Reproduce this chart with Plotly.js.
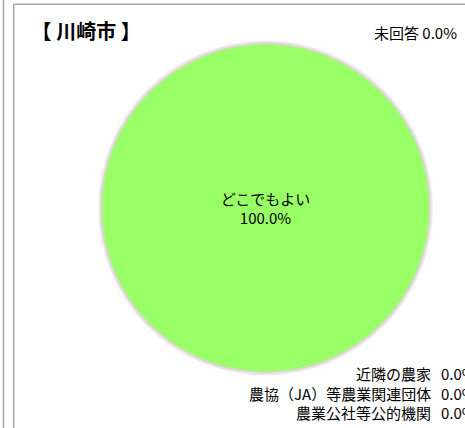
<!DOCTYPE html>
<html>
<head>
<meta charset="utf-8">
<script src="https://cdn.plot.ly/plotly-3.0.1.min.js"></script>
<style>
  body { margin: 0; background: #fff; }
  #plot1 { width: 465px; height: 428px; }
</style>
</head>
<body>
<div id="plot1"></div>
<script>
// Answer categories and shares (%)
var categories = ['どこでもよい', '近隣の農家', '農協（JA）等農業関連団体', '農業公社等公的機関', '未回答'];
var values = [100.0, 0.0, 0.0, 0.0, 0.0];
var sliceColors = ['#99FF66', '#FFCC66', '#66CCFF', '#FF9999', '#CCCCCC'];
var chartTitle = '【 川崎市 】';

var jp = '"Noto Sans CJK JP", "Noto Sans", sans-serif';

function pct(v) {
	return v.toFixed(1) + '%';
}

function drawPlot1() {
	var trace = {
		type: 'pie',
		labels: categories,
		values: values,
		sort: false,
		direction: 'clockwise',
		rotation: 0,
		marker: {
			colors: sliceColors,
			// only the real slice gets the soft rim, empty ones draw nothing
			line: { color: 'rgba(235,205,235,0.6)', width: values.map(function (v) { return v > 0 ? 4 : 0; }) }
		},
		texttemplate: '%{label}<br>%{percent:.1%}',
		textposition: 'inside',
		insidetextorientation: 'horizontal',
		insidetextfont: { family: jp, size: 15, color: '#000' },
		domain: { x: [0.213, 0.929], y: [0.128, 0.9] },
		hoverinfo: 'none',
		showlegend: false
	};

	// zero-value slices get outside labels, placed as annotations
	var annotations = [];
	var rows = [[4, 0.925], [1, 0.128], [2, 0.081], [3, 0.037]];
	rows.forEach(function (r, k) {
		var i = r[0];
		if (k === 0) {
			annotations.push({
				xref: 'paper', yref: 'paper', x: 0.8, y: r[1],
				xanchor: 'left', yanchor: 'middle', showarrow: false,
				text: categories[i] + ' ' + pct(values[i]),
				font: { family: jp, size: 15, color: '#000' }
			});
		} else {
			annotations.push({
				xref: 'paper', yref: 'paper', x: 0.932, y: r[1],
				xanchor: 'right', yanchor: 'middle', showarrow: false,
				text: categories[i],
				font: { family: jp, size: 15, color: '#000' }
			});
			annotations.push({
				xref: 'paper', yref: 'paper', x: 0.945, y: r[1],
				xanchor: 'left', yanchor: 'middle', showarrow: false,
				text: pct(values[i]),
				font: { family: jp, size: 15, color: '#000' }
			});
		}
	});

	var layout = {
		width: 465,
		height: 428,
		margin: { l: 0, r: 0, t: 0, b: 0 },
		paper_bgcolor: '#fff',
		title: {
			text: '<b>' + chartTitle + '</b>',
			font: { family: jp, size: 20, color: '#000' },
			x: 0.068, xanchor: 'left', y: 0.925, yanchor: 'middle'
		},
		annotations: annotations,
		shapes: [
			// neighbouring panel edge
			{ type: 'line', xref: 'paper', yref: 'paper', x0: 0.0075, x1: 0.0075, y0: 0, y1: 1,
				line: { color: '#a6a6a6', width: 1.5 } },
			// this panel's frame
			{ type: 'line', xref: 'paper', yref: 'paper', x0: 0.0295, x1: 0.0295, y0: 0, y1: 0.99,
				line: { color: '#a6a6a6', width: 1.5 } },
			{ type: 'line', xref: 'paper', yref: 'paper', x0: 0.0295, x1: 1, y0: 0.99, y1: 0.99,
				line: { color: '#a6a6a6', width: 1.5 } }
		]
	};

	Plotly.newPlot('plot1', [trace], layout, { displayModeBar: false, staticPlot: true });
}

drawPlot1();
</script>
</body>
</html>
